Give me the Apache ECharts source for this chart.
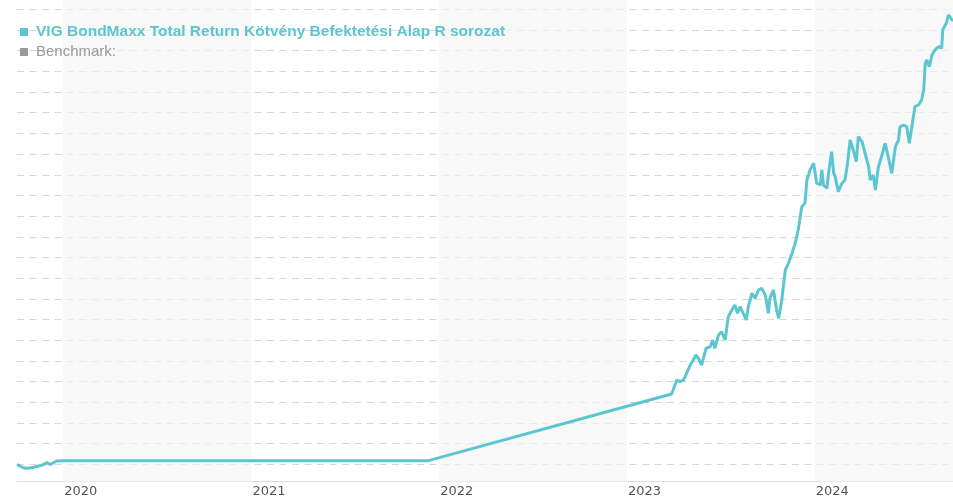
<!DOCTYPE html>
<html>
<head>
<meta charset="utf-8">
<title>VIG BondMaxx</title>
<script src="https://cdn.jsdelivr.net/npm/echarts@6/dist/echarts.min.js"></script>
<style>
  html, body { margin: 0; padding: 0; background: #fff; }
  #chart { width: 953px; height: 500px; }
</style>
</head>
<body>
<div id="chart"></div>
<script>
// árfolyam adatok (leolvasva)
const fundName = 'VIG BondMaxx Total Return Kötvény Befektetési Alap R sorozat'
const benchmarkName = 'Benchmark:'
const navDates = [
  '2019-10-03', '2019-10-13', '2019-10-20', '2019-10-28', '2019-11-06', '2019-11-16', '2019-11-24',
  '2019-11-30', '2019-12-06', '2019-12-13', '2019-12-19', '2019-12-31', '2021-12-11', '2023-03-29',
  '2023-04-01', '2023-04-08', '2023-04-14', '2023-04-21', '2023-04-27', '2023-05-04', '2023-05-10',
  '2023-05-15', '2023-05-20', '2023-05-23', '2023-05-26', '2023-06-04', '2023-06-12', '2023-06-17',
  '2023-06-21', '2023-06-28', '2023-07-04', '2023-07-11', '2023-07-17', '2023-07-24', '2023-07-30',
  '2023-08-04', '2023-08-09', '2023-08-15', '2023-08-21', '2023-08-25', '2023-09-01', '2023-09-07',
  '2023-09-14', '2023-09-20', '2023-09-27', '2023-10-03', '2023-10-06', '2023-10-13', '2023-10-19',
  '2023-10-23', '2023-10-29', '2023-11-05', '2023-11-11', '2023-11-18', '2023-11-24', '2023-11-30',
  '2023-12-07', '2023-12-13', '2023-12-17', '2023-12-23', '2023-12-30', '2024-01-05', '2024-01-12',
  '2024-01-15', '2024-01-18', '2024-01-25', '2024-01-28', '2024-02-03', '2024-02-07', '2024-02-10',
  '2024-02-16', '2024-02-23', '2024-02-29', '2024-03-05', '2024-03-10', '2024-03-16', '2024-03-22',
  '2024-03-26', '2024-04-02', '2024-04-08', '2024-04-15', '2024-04-18', '2024-04-24', '2024-04-28',
  '2024-05-04', '2024-05-11', '2024-05-17', '2024-05-23', '2024-05-30', '2024-06-06', '2024-06-12',
  '2024-06-15', '2024-06-22', '2024-06-28', '2024-07-03', '2024-07-08', '2024-07-14', '2024-07-21',
  '2024-07-27', '2024-07-31', '2024-08-03', '2024-08-06', '2024-08-11', '2024-08-16', '2024-08-22',
  '2024-08-29', '2024-09-04', '2024-09-06', '2024-09-13', '2024-09-17', '2024-09-24', '2024-09-26'
]
const navValues = [
  99.98, 99.71, 99.61, 99.64, 99.74, 99.86, 99.98,
  100.17, 99.98, 100.15, 100.32, 100.35, 100.35, 106.80,
  106.94, 108.15, 107.99, 108.15, 108.80, 109.60, 110.09,
  110.57, 110.25, 110.09, 109.60, 111.22, 111.37, 112.02,
  111.22, 112.50, 112.82, 112.02, 114.27, 114.92, 115.41,
  114.60, 115.24, 114.60, 113.96, 115.24, 116.54, 116.05,
  116.86, 117.02, 116.37, 114.60, 116.05, 116.86, 114.92,
  114.12, 115.89, 118.79, 119.44, 120.41, 121.37, 122.66,
  124.91, 125.24, 127.49, 128.46, 129.11, 127.18, 127.01,
  128.46, 127.01, 126.69, 128.14, 130.23, 128.14, 127.81,
  126.36, 127.18, 127.49, 129.11, 131.36, 130.40, 129.26,
  131.68, 131.20, 130.08, 128.78, 127.49, 127.98, 126.53,
  128.78, 129.91, 131.04, 129.75, 128.14, 130.72, 131.36,
  132.65, 132.81, 132.65, 131.04, 132.65, 134.58, 134.75,
  135.23, 136.20, 138.78, 139.10, 138.45, 139.58, 140.07,
  140.39, 140.23, 142.00, 142.65, 143.45, 142.97, 142.90
]
const benchmarkValues = []
const yearTicks = ['2020-01-01', '2021-01-01', '2022-01-01', '2023-01-01', '2024-01-01']
const shadedYears = [2020, 2022, 2024]
const yMin = 98.317
const yMax = 144.9
const yStep = 2

const lineColor = '#5cc6d0'
const toTime = (d) => +echarts.time.parse(d)
const myChart = echarts.init(document.getElementById('chart'))

const option = {
  animation: false,
  backgroundColor: '#fff',
  legend: {
    orient: 'vertical',
    left: 20,
    top: 24,
    padding: 0,
    icon: 'rect',
    itemWidth: 8,
    itemHeight: 8,
    itemGap: 4,
    selectedMode: false,
    textStyle: {
      fontFamily: '"Liberation Sans", Arial, sans-serif',
      fontSize: 15,
      lineHeight: 16,
      padding: [0, 0, 0, 3]
    },
    data: [
      { name: fundName, textStyle: { color: lineColor, fontWeight: 'bold', fontSize: 15.5 } },
      { name: benchmarkName, textStyle: { color: '#999' } }
    ]
  },
  grid: {
    left: 17,
    right: 0,
    top: 0,
    bottom: 18.3
  },
  xAxis: {
    type: 'value',
    min: toTime(navDates[0]),
    max: toTime(navDates[navDates.length - 1]),
    axisLine: { show: true, lineStyle: { color: '#dcdcdc', width: 1 } },
    axisTick: { show: false },
    splitLine: { show: false },
    axisLabel: {
      customValues: yearTicks.map(toTime),
      formatter: (val) => String(new Date(val).getFullYear()),
      align: 'left',
      margin: 3,
      padding: [0, 0, 0, 1],
      color: '#555',
      fontFamily: '"DejaVu Sans", Verdana, sans-serif',
      fontSize: 13
    }
  },
  yAxis: {
    type: 'value',
    min: yMin,
    max: yMax,
    minInterval: yStep,
    maxInterval: yStep,
    axisLine: { show: false },
    axisTick: { show: false },
    axisLabel: { show: false },
    splitLine: {
      show: true,
      showMinLine: false,
      showMaxLine: false,
      lineStyle: { color: '#d6d6d6', type: [7, 5.5], width: 1 }
    }
  },
  series: [
    {
      name: fundName,
      type: 'line',
      showSymbol: false, // 不显示折点
      color: lineColor,
      lineStyle: { width: 3, color: lineColor },
      data: navDates.map((d, i) => [toTime(d), navValues[i]]),
      markArea: {
        silent: true,
        label: { show: false },
        itemStyle: { color: 'rgba(244,244,244,0.63)' },
        data: shadedYears.map(y => [{ xAxis: toTime(y + '-01-01') }, { xAxis: toTime((y + 1) + '-01-01') }])
      }
    },
    {
      name: benchmarkName,
      type: 'line',
      showSymbol: false,
      color: '#999',
      data: benchmarkValues
    }
  ]
}
myChart.setOption(option)
</script>
</body>
</html>
